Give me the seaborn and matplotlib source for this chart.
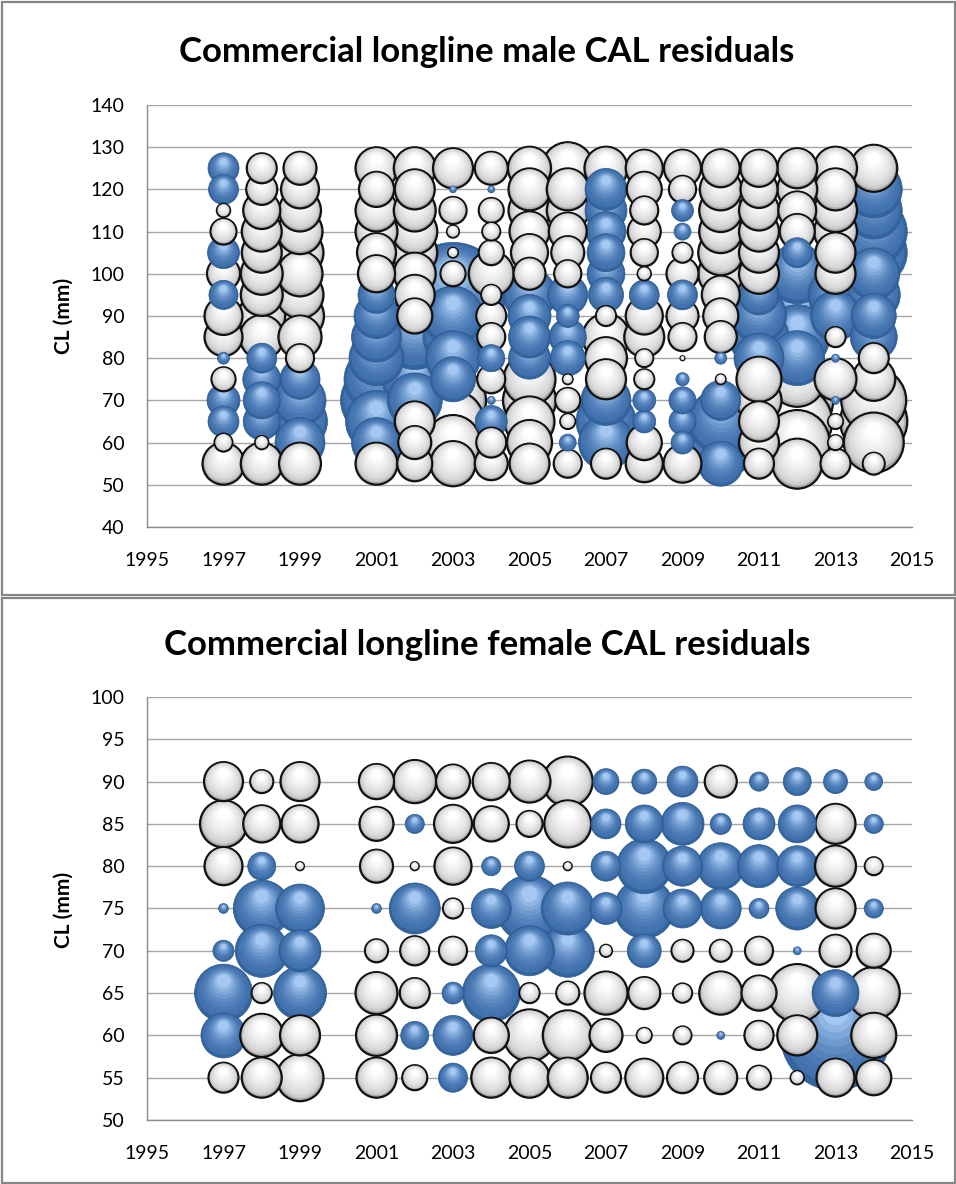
import numpy as np
import pandas as pd
import matplotlib
matplotlib.use("Agg")
import matplotlib.pyplot as plt
import seaborn as sns
from matplotlib.patches import Rectangle
from matplotlib.colors import to_rgba

# ---------------- data ----------------
years = [1997, 1998, 1999, 2001, 2002, 2003, 2004, 2005, 2006,
         2007, 2008, 2009, 2010, 2011, 2012, 2013, 2014]
male_lengths = [55, 60, 65, 70, 75, 80, 85, 90, 95, 100, 105, 110, 115, 120, 125]
female_lengths = [55, 60, 65, 70, 75, 80, 85, 90]
x_ticks = [1995, 1997, 1999, 2001, 2003, 2005, 2007, 2009, 2011, 2013, 2015]
male_y_ticks = [40, 50, 60, 70, 80, 90, 100, 110, 120, 130, 140]
female_y_ticks = [50, 55, 60, 65, 70, 75, 80, 85, 90, 95, 100]

# male residuals per year, lengths 55 -> 125 (positive = blue, negative = white)
m1997 = [-1.1, -0.2, 0.6, 0.68, -0.36, 0.09, -0.9, -0.9, 0.53, -0.68, 0.64, -0.42, -0.11, 0.56, 0.6]
m1998 = [-1.1, -0.11, 0.86, 0.86, 0.9, 0.56, -1.21, -1.38, -1.1, -1.1, -1.0, -1.0, -0.86, -0.6, -0.56]
m1999 = [-1.1, 1.56, 1.89, 1.69, 1.0, -0.49, -1.16, -1.44, -1.38, -1.27, -1.38, -1.27, -1.1, -0.9, -0.68]
m2001 = [-1.1, 1.56, 2.4, 3.24, 2.64, 1.89, 1.56, 1.27, 0.86, -0.86, -0.95, -1.1, -1.1, -0.77, -1.1]
m2002 = [-0.77, -0.68, -1.0, 1.89, 2.64, 3.52, 2.64, -0.77, -1.0, -1.1, -1.27, -1.27, -1.1, -1.0, -1.1]
m2003 = [-1.27, -1.89, -2.4, -2.72, 1.27, 1.89, 2.25, 2.25, 6.89, -0.39, -0.06, -0.09, -0.46, 0.03, -1.0]
m2004 = [-0.68, -0.56, 0.64, 0.04, -0.49, 0.46, -0.49, -0.56, -0.25, -1.27, -0.39, -0.2, -0.39, 0.03, -0.68]
m2005 = [-1.0, -1.27, -1.56, -1.76, -1.69, 1.1, 1.1, 1.16, 1.76, -0.64, -0.86, -1.0, -1.1, -1.1, -1.16]
m2006 = [-0.49, 0.18, -0.14, -0.39, -0.06, 0.77, 0.86, 0.33, 1.0, -0.46, -0.68, -0.9, -1.1, -1.1, -1.69]
m2007 = [-0.56, 1.89, 2.25, 1.56, -1.0, -1.1, -1.38, -0.25, 0.77, 0.9, 0.9, 1.0, 1.1, 1.1, -1.16]
m2008 = [-0.86, -0.77, 0.33, 0.33, -0.25, -0.2, -1.0, -0.86, 0.56, -0.11, -0.46, -0.68, -0.49, -0.77, -0.86]
m2009 = [-0.9, 0.33, 0.46, 0.46, 0.11, -0.01, -0.49, -0.64, 0.56, -0.64, -0.25, 0.18, 0.3, -0.46, -0.86]
m2010 = [1.27, 3.24, 2.64, 1.0, -0.06, 0.09, -0.64, -0.77, -0.9, -1.27, -1.27, -1.16, -1.16, -1.1, -0.9]
m2011 = [-0.56, -1.0, -1.0, -1.27, -1.27, 1.56, 2.25, 1.89, 1.0, -1.0, -1.0, -1.0, -1.0, -0.86, -0.86]
m2012 = [-1.56, -2.64, -3.06, -3.24, -1.89, 1.89, 2.64, 3.52, 4.0, 2.25, 0.56, -0.77, -0.9, -1.0, -1.0]
m2013 = [-0.56, -0.14, -0.14, 0.04, -1.1, 0.04, -0.25, 1.56, 1.89, -1.0, -1.0, -1.16, -1.16, -1.1, -1.16]
m2014 = [-0.3, -2.25, -2.81, -2.64, -1.16, -0.56, 1.38, 1.27, 1.76, 1.69, 2.81, 2.81, 2.03, 2.03, -1.38]

# female residuals per year, lengths 55 -> 90
f1997 = [-0.56, 1.27, 2.1, 0.28, 0.06, -0.9, -1.38, -0.95]
f1998 = [-1.0, -1.16, -0.25, 1.76, 2.03, 0.49, -0.86, -0.33]
f1999 = [-1.38, -1.0, 1.76, 1.1, 1.5, -0.04, -0.86, -0.95]
f2001 = [-1.0, -1.05, -1.1, -0.33, 0.06, -0.68, -0.72, -0.77]
f2002 = [-0.39, 0.49, -0.56, -0.53, 1.63, -0.04, 0.23, -1.16]
f2003 = [0.53, 1.0, 0.3, -0.49, -0.25, -0.86, -0.9, -0.72]
f2004 = [-1.0, -0.77, 2.1, 0.64, 1.0, 0.23, -0.77, -0.86]
f2005 = [-1.0, -1.69, -0.25, 1.56, 2.81, 0.56, -0.42, -1.1]
f2006 = [-1.0, -1.56, -0.33, 1.76, 1.76, -0.04, -1.38, -1.56]
f2007 = [-0.56, -0.68, -1.16, -0.09, 0.64, 0.56, 0.56, 0.42]
f2008 = [-0.9, -0.14, -0.64, 0.72, 2.25, 1.89, 0.9, 0.39]
f2009 = [-0.6, -0.2, -0.23, -0.3, 0.95, 1.0, 1.16, 0.6]
f2010 = [-0.68, 0.04, -1.16, -0.3, 1.05, 1.38, 0.28, -0.64]
f2011 = [-0.36, -0.53, -0.77, -0.49, 0.25, 1.16, 0.64, 0.23]
f2012 = [-0.11, -1.0, -2.1, 0.04, 1.16, 1.05, 0.9, 0.49]
f2013 = [-0.9, 7.56, 1.38, -0.64, -1.0, -1.05, -1.0, 0.36]
f2014 = [-0.77, -1.27, -1.69, -0.72, 0.23, -0.2, 0.23, 0.2]

male_cols = [m1997, m1998, m1999, m2001, m2002, m2003, m2004, m2005, m2006,
             m2007, m2008, m2009, m2010, m2011, m2012, m2013, m2014]
female_cols = [f1997, f1998, f1999, f2001, f2002, f2003, f2004, f2005, f2006,
               f2007, f2008, f2009, f2010, f2011, f2012, f2013, f2014]

# ---------------- style ----------------
DPI = 100
W, H = 956, 1184
K = 829.44          # marker area (pt^2) per unit |residual|
NL = 10             # shading layers per bubble
FONT = "Lato"

sns.set_theme(style="white")
plt.rcParams["font.family"] = [FONT, "DejaVu Sans"]


def lerp(c0, c1, t):
    a, b = np.array(to_rgba(c0)), np.array(to_rgba(c1))
    return a + (b - a) * t


blue_pal = [to_rgba("#33649D")] + [lerp("#4272AE", "#A4C8F2", ((k - 1) / (NL - 2)) ** 1.7) for k in range(1, NL)]
white_pal = [to_rgba("#A9A9A9")] + [lerp("#CDCDCD", "#FFFFFF", ((k - 1) / (NL - 2)) ** 0.7) for k in range(1, NL)]


def layered_frame(cols, lengths, ax):
    recs = []
    for yr, col in zip(years, cols):
        for ln, r in zip(lengths, col):
            recs.append((yr, ln, r))
    df = pd.DataFrame(recs, columns=["year", "length", "resid"])
    order = np.argsort(-df["resid"].abs().to_numpy(), kind="stable")
    df = df.iloc[order].reset_index(drop=True)
    p0 = ax.transData.transform((2000, 0))
    p1 = ax.transData.transform((2000, 1))
    px_per_y = p1[1] - p0[1]
    out = []
    for row in df.itertuples():
        s0 = K * abs(row.resid)
        R_px = np.sqrt(s0) / 2 * DPI / 72
        pos = row.resid > 0
        pal = blue_pal if pos else white_pal
        for k in range(NL):
            f = 1 - 0.085 * k
            shift = R_px * (1 - f) * 0.55 / px_per_y
            if k == 0:
                ec = to_rgba("#2E5A8E") if pos else to_rgba("#111111")
                lw = 0.5 if pos else 1.6
            else:
                ec = pal[k]
                lw = 0.0
            out.append((row.year, row.length + shift, s0 * f * f, pal[k], ec, lw))
    lay = pd.DataFrame(out, columns=["x", "y", "s", "fc", "ec", "lw"])
    return lay


def draw_panel(ax, cols, lengths, ylim, yticks, title, title_y, ylab_y):
    ax.set_xlim(1995, 2015)
    ax.set_ylim(*ylim)
    ax.set_yticks(yticks)
    ax.set_xticks(x_ticks)
    ax.yaxis.grid(True, color="#A6A6A6", linewidth=1.0, zorder=0)
    ax.xaxis.grid(False)
    ax.set_axisbelow(True)
    for sp in ["top", "right"]:
        ax.spines[sp].set_visible(False)
    for sp in ["left", "bottom"]:
        ax.spines[sp].set_color("#8C8C8C")
        ax.spines[sp].set_linewidth(1.0)
    ax.tick_params(axis="both", which="both", direction="out", length=4,
                   color="#8C8C8C", width=1.0, labelsize=14, labelcolor="black")
    ax.tick_params(axis="y", pad=12)
    ax.tick_params(axis="x", pad=14)
    lay = layered_frame(cols, lengths, ax)
    sns.scatterplot(data=lay, x="x", y="y", s=lay["s"].to_numpy(),
                    c=np.vstack(lay["fc"].to_numpy()),
                    edgecolor=np.vstack(lay["ec"].to_numpy()),
                    linewidths=lay["lw"].to_numpy(),
                    ax=ax, legend=False, zorder=3)
    ax.set_xlabel("")
    ax.set_ylabel("")
    fig.text(487 / W, 1 - title_y / H, title, ha="center", va="center",
             fontsize=25, fontweight="bold", color="black")
    fig.text(64 / W, 1 - ylab_y / H, "CL (mm)", ha="center", va="center",
             rotation=90, fontsize=15, fontweight="bold", color="black")


fig = plt.figure(figsize=(W / DPI, H / DPI), dpi=DPI)
fig.patch.set_facecolor("white")

ax1 = fig.add_axes([147 / W, 1 - 527 / H, (912 - 147) / W, (527 - 105) / H])
ax2 = fig.add_axes([147 / W, 1 - 1120 / H, (912 - 147) / W, (1120 - 697) / H])

draw_panel(ax1, male_cols, male_lengths, (40, 140), male_y_ticks,
           "Commercial longline male CAL residuals", 52, 316)
draw_panel(ax2, female_cols, female_lengths, (50, 100), female_y_ticks,
           "Commercial longline female CAL residuals", 645, 910)

# chart-area borders
fig.patches.append(Rectangle((1.5 / W, 1 - 595 / H), 953 / W, 593 / H,
                             transform=fig.transFigure, fill=False,
                             edgecolor="#868686", linewidth=1.6))
fig.patches.append(Rectangle((1.5 / W, 1.5 / H), 953 / W, (1184 - 599) / H,
                             transform=fig.transFigure, fill=False,
                             edgecolor="#868686", linewidth=1.6))

fig.savefig("out.png", dpi=DPI)
